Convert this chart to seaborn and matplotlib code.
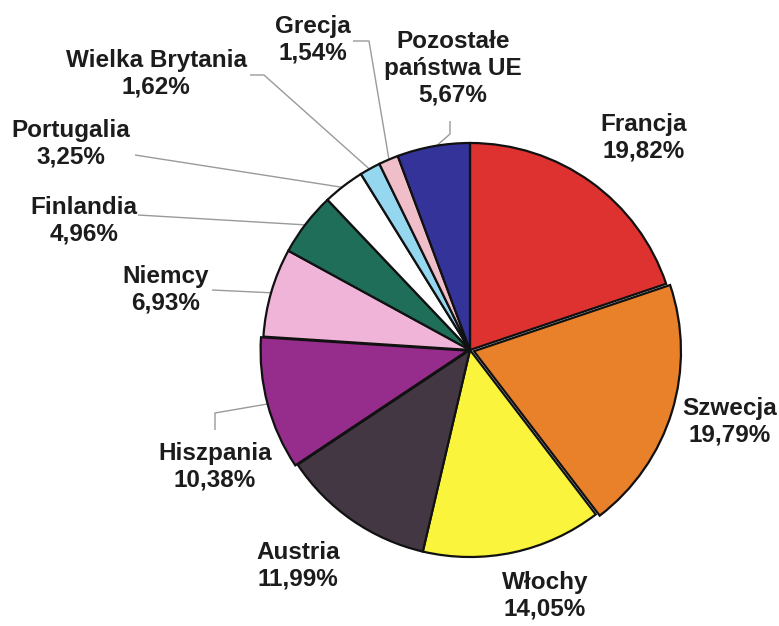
import matplotlib
matplotlib.use("Agg")
import numpy as np
import matplotlib.pyplot as plt
import seaborn as sns

# Shares of EU member states (percent)
countries = ["Francja", "Szwecja", "Włochy", "Austria", "Hiszpania", "Niemcy",
             "Finlandia", "Portugalia", "Wielka Brytania", "Grecja",
             "Pozostałe\npaństwa UE"]
shares = [19.82, 19.79, 14.05, 11.99, 10.38, 6.93, 4.96, 3.25, 1.62, 1.54, 5.67]
slice_colors = ["#DE3230", "#E8812A", "#FAF53C", "#433743", "#962D8C", "#F0B4D8",
                "#1E6E5A", "#FFFFFF", "#96D7F0", "#F0BEC8", "#333399"]

# Layout (pixel positions of the figure canvas)
W, H = 779, 626
CX, CY, R = 470, 350, 207
explode = [0, 0.02, 0, 0, 0.012, 0, 0, 0, 0, 0, 0]
label_pos = [(644, 138), (730, 422), (545, 596), (298, 566), (215, 467),
             (166, 290), (84, 221), (71, 144), (156, 74), (313, 40), (453, 68)]
leader_pts = {4: [(215, 430), (215, 413)],
              5: [(212, 290)],
              6: [(138, 215)],
              7: [(135, 155)],
              8: [(250, 75), (264, 75)],
              9: [(353, 41), (369, 41)],
              10: [(450, 121), (450, 134)]}

sns.set_theme(style="white")
plt.rcParams["font.family"] = ["Liberation Sans", "DejaVu Sans"]


def to_data(x, y):
    return (x - CX) / R, (CY - y) / R


fig = plt.figure(figsize=(W / 100, H / 100), dpi=100)
ax = fig.add_axes([0, 0, 1, 1])

palette = sns.color_palette(slice_colors)
wedges, _ = ax.pie(shares, colors=palette, startangle=90, counterclock=False,
                   explode=explode,
                   wedgeprops=dict(edgecolor="#111111", linewidth=1.6, zorder=3))

ax.set_xlim(-CX / R, (W - CX) / R)
ax.set_ylim((CY - H) / R, CY / R)
ax.set_aspect("equal")
ax.axis("off")

# Leader lines from the labels to the middle of each small slice
for i, pts in leader_pts.items():
    w = wedges[i]
    mid = np.deg2rad((w.theta1 + w.theta2) / 2)
    cx, cy = w.center
    end = (cx + 0.99 * w.r * np.cos(mid), cy + 0.99 * w.r * np.sin(mid))
    xy = [to_data(*p) for p in pts] + [end]
    xs, ys = zip(*xy)
    ax.plot(xs, ys, color="#9a9a9a", lw=1.0, zorder=1, solid_capstyle="butt")

for name, val, pos in zip(countries, shares, label_pos):
    txt = f"{name}\n{val:.2f}".replace(".", ",") + "%"
    ax.text(*to_data(*pos), txt, ha="center", va="center", fontsize=17.5,
            fontweight="bold", color="#1c1c1c", linespacing=1.22, zorder=4)

fig.savefig("out.png", dpi=100, facecolor="white")
